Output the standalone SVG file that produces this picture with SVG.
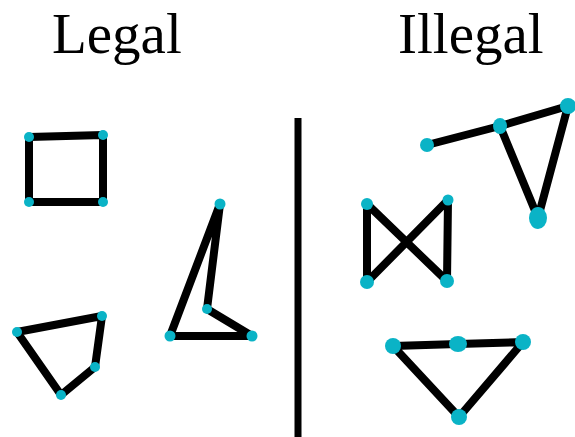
<svg xmlns="http://www.w3.org/2000/svg" width="575" height="437" viewBox="0 0 575 437">
<style>
.e{stroke:#000;stroke-width:8;stroke-linecap:round;stroke-linejoin:round;fill:none}
.d{fill:#0ab3c6}
.t{font-family:"Liberation Serif","Times New Roman",serif;font-size:57px;fill:#000}
</style>
<rect width="575" height="437" fill="#fff"/>
<text class="t" x="52" y="53">Legal</text>
<text class="t" x="398" y="53">Illegal</text>
<line x1="298" y1="118" x2="298" y2="437" stroke="#000" stroke-width="7"/>
<g id="connectors">
<polygon class="e" points="29,137 103,135 103,202 29,202"/>
<polygon class="e" points="17,332 102,316 95,367 61,395"/>
<polygon class="e" points="220,204 207,309 252,336 170,336"/>
<polyline class="e" points="427,145 500,126 568,106 538,218 500,126"/>
<polygon class="e" points="367,204 447,281 448,200 367,282"/>
<polygon class="e" points="393,346 458,344 523,342 459,417"/>
</g>
<g id="n-square">
<circle class="d" cx="29" cy="137" r="5"/><circle class="d" cx="103" cy="135" r="5"/>
<circle class="d" cx="29" cy="202" r="5"/><circle class="d" cx="103" cy="202" r="5"/>
</g>
<g id="n-quad">
<circle class="d" cx="17" cy="332" r="5"/><circle class="d" cx="102" cy="316" r="5"/>
<circle class="d" cx="95" cy="367" r="5"/><circle class="d" cx="61" cy="395" r="5"/>
</g>
<g id="n-tri">
<circle class="d" cx="220" cy="204" r="5.5"/><circle class="d" cx="207" cy="309" r="5"/>
<circle class="d" cx="252" cy="336" r="5.5"/><circle class="d" cx="170" cy="336" r="5.5"/>
</g>
<g id="n-line-tri">
<circle class="d" cx="427" cy="145" r="7"/><ellipse class="d" cx="500" cy="126" rx="7" ry="8"/>
<circle class="d" cx="568" cy="106" r="8"/><ellipse class="d" cx="538" cy="218" rx="9" ry="11"/>
</g>
<g id="n-bowtie">
<circle class="d" cx="367" cy="204" r="6"/><circle class="d" cx="448" cy="200" r="5.5"/>
<circle class="d" cx="367" cy="282" r="7"/><circle class="d" cx="447" cy="281" r="7"/>
</g>
<g id="n-bottom-tri">
<circle class="d" cx="393" cy="346" r="8"/><ellipse class="d" cx="458" cy="344" rx="9" ry="8"/>
<circle class="d" cx="523" cy="342" r="8"/><circle class="d" cx="459" cy="417" r="8"/>
</g>
</svg>
